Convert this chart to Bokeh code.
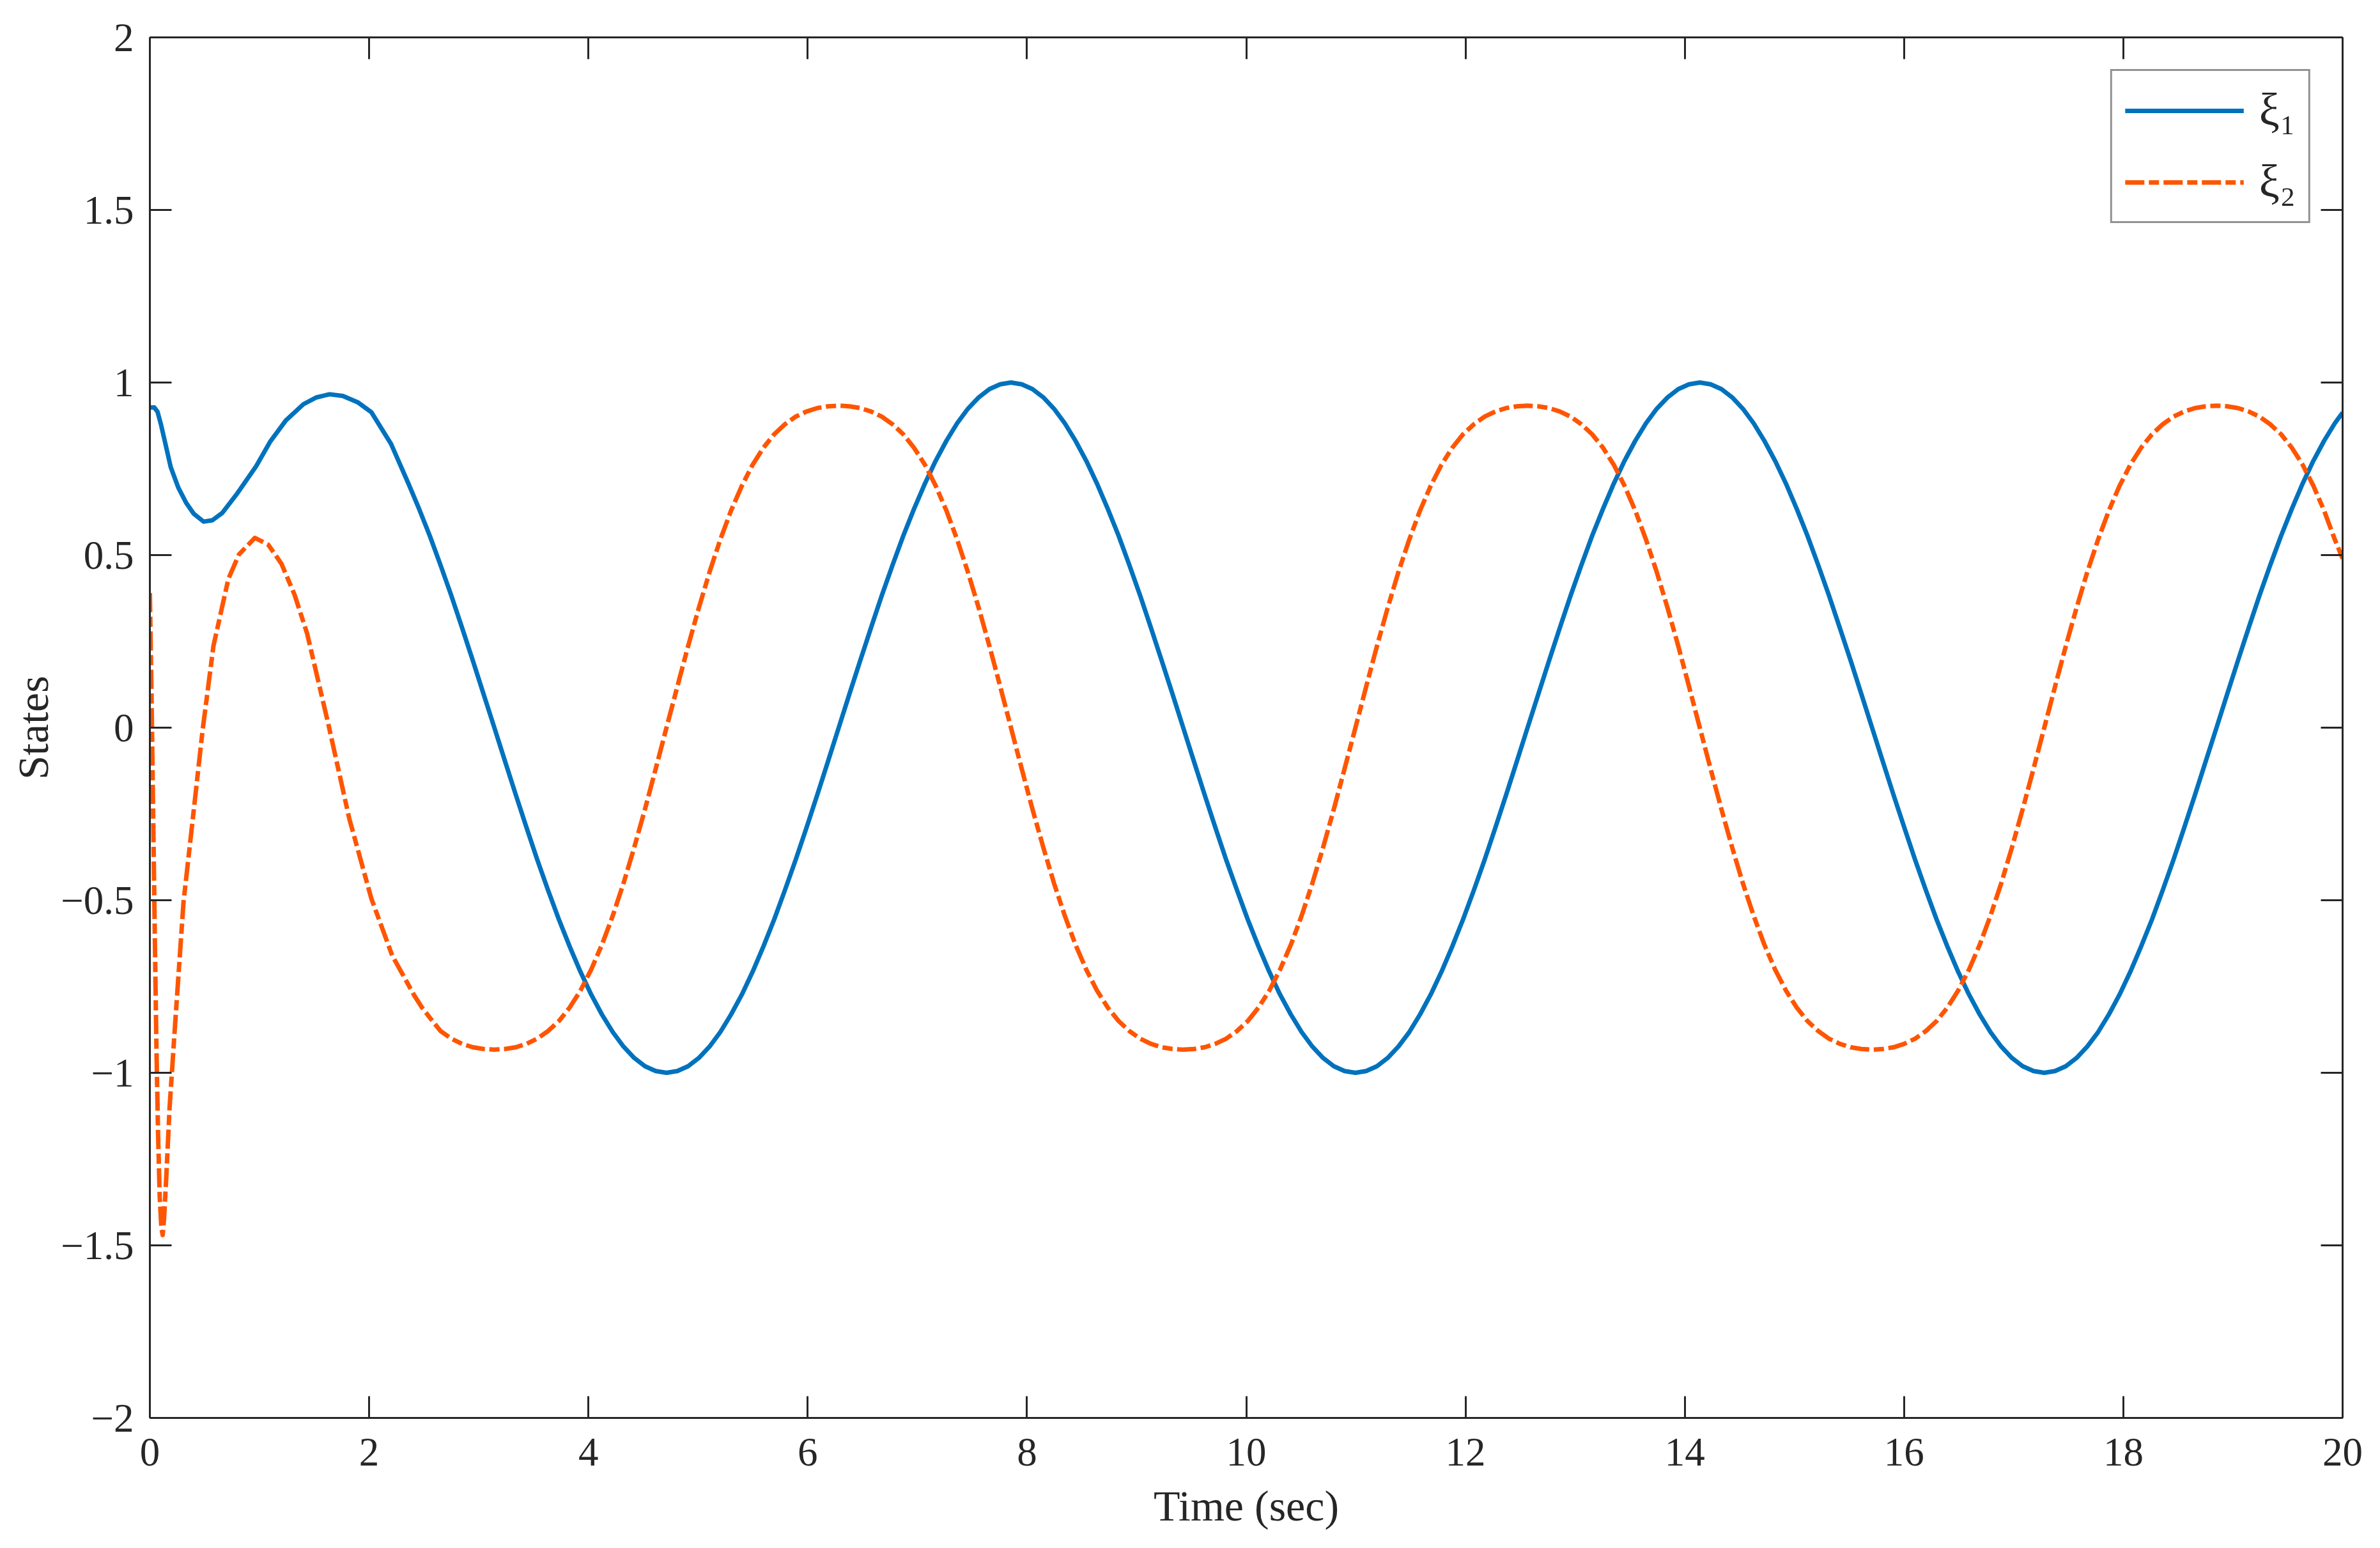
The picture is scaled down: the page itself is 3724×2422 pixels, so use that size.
from bokeh.plotting import figure
from bokeh.models import (LinearAxis, Legend, LegendItem, FixedTicker, Range1d,
                          ColumnDataSource, CustomJSTickFormatter, CustomLabelingPolicy)
from bokeh.embed import file_html
from bokeh.resources import INLINE

# ---------------- data ----------------
x_ticks = [0, 2, 4, 6, 8, 10, 12, 14, 16, 18, 20]
y_ticks = [-2, -1.5, -1, -0.5, 0, 0.5, 1, 1.5, 2]
series_names = ["ξ₁", "ξ₂"]

# early transient of xi_1
t_xi1_start = [0.00, 0.04, 0.07, 0.10, 0.14, 0.19, 0.26, 0.33, 0.40, 0.49, 0.57,
               0.66, 0.80, 0.97, 1.10, 1.24, 1.40, 1.52, 1.64, 1.76, 1.90, 2.02,
               2.20, 2.36, 2.45]
xi1_start = [0.928, 0.928, 0.915, 0.880, 0.825, 0.755, 0.695, 0.652, 0.620, 0.597,
             0.601, 0.622, 0.680, 0.758, 0.830, 0.890, 0.937, 0.957, 0.966, 0.961,
             0.942, 0.914, 0.822, 0.706, 0.638]

# early transient of xi_2
t_xi2_start = [0.000, 0.015, 0.030, 0.045, 0.060, 0.075, 0.090, 0.105, 0.117, 0.130,
               0.150, 0.180, 0.230, 0.307, 0.400, 0.480, 0.580, 0.716, 0.813, 0.958,
               1.080, 1.200, 1.320, 1.435, 1.630, 1.820, 2.020, 2.210, 2.410, 2.480]
xi2_start = [0.390, 0.100, -0.250, -0.600, -0.930, -1.180, -1.360, -1.450, -1.470,
             -1.420, -1.300, -1.100, -0.860, -0.505, -0.240, -0.010, 0.237, 0.431,
             0.502, 0.550, 0.530, 0.475, 0.385, 0.272, 0.007, -0.265, -0.495,
             -0.660, -0.775, -0.810]

# later part (shared time samples)
t_later = [
    2.553, 2.651, 2.749, 2.847, 2.945, 3.043, 3.142, 3.240, 3.338, 3.436, 3.534, 3.632,
    3.731, 3.829, 3.927, 4.025, 4.123, 4.222, 4.320, 4.418, 4.516, 4.614, 4.712, 4.811,
    4.909, 5.007, 5.105, 5.203, 5.301, 5.400, 5.498, 5.596, 5.694, 5.792, 5.890, 5.989,
    6.087, 6.185,
    6.283, 6.381, 6.480, 6.578, 6.676, 6.774, 6.872, 6.970, 7.069, 7.167, 7.265, 7.363,
    7.461, 7.560, 7.658, 7.756, 7.854, 7.952, 8.050, 8.149, 8.247, 8.345, 8.443, 8.541,
    8.639, 8.737, 8.836, 8.934, 9.032, 9.130, 9.228, 9.327, 9.425, 9.523, 9.621, 9.719,
    9.817, 9.916, 10.014, 10.112, 10.210, 10.308, 10.407, 10.505, 10.603, 10.701,
    10.799, 10.897, 10.996, 11.094, 11.192, 11.290, 11.388, 11.487, 11.585, 11.683,
    11.781, 11.879, 11.977, 12.076, 12.174, 12.272, 12.370, 12.468,
    12.566, 12.665, 12.763, 12.861, 12.959, 13.057, 13.155, 13.254, 13.352, 13.450,
    13.548, 13.646, 13.744, 13.843, 13.941, 14.039, 14.137, 14.235, 14.334, 14.432,
    14.530, 14.628, 14.726, 14.824, 14.923, 15.021, 15.119, 15.217, 15.315, 15.413,
    15.512, 15.610, 15.708, 15.806, 15.904, 16.003, 16.101, 16.199, 16.297, 16.395,
    16.493, 16.592, 16.690, 16.788, 16.886, 16.984, 17.082, 17.181, 17.279, 17.377,
    17.475, 17.573, 17.671, 17.770, 17.868, 17.966, 18.064, 18.162, 18.261, 18.359,
    18.457, 18.555, 18.653, 18.751,
    18.850, 18.948, 19.046, 19.144, 19.242, 19.340, 19.439, 19.537, 19.635, 19.733,
    19.831, 19.929, 20.000]

xi1_later = [
    0.556, 0.471, 0.383, 0.290, 0.195, 0.098, 0.000, -0.098, -0.195, -0.290, -0.383,
    -0.471, -0.556, -0.634, -0.707, -0.773, -0.831, -0.882, -0.924, -0.957, -0.981,
    -0.995, -1.000, -0.995, -0.981, -0.957, -0.924, -0.882, -0.831, -0.773, -0.707,
    -0.634, -0.556, -0.471, -0.383, -0.290, -0.195, -0.098,
    0.000, 0.098, 0.195, 0.290, 0.383, 0.471, 0.556, 0.634, 0.707, 0.773, 0.831, 0.882,
    0.924, 0.957, 0.981, 0.995, 1.000, 0.995, 0.981, 0.957, 0.924, 0.882, 0.831, 0.773,
    0.707, 0.634, 0.556, 0.471, 0.383, 0.290, 0.195, 0.098, 0.000, -0.098, -0.195,
    -0.290, -0.383, -0.471, -0.556, -0.634, -0.707, -0.773, -0.831, -0.882, -0.924,
    -0.957, -0.981, -0.995, -1.000, -0.995, -0.981, -0.957, -0.924, -0.882, -0.831,
    -0.773, -0.707, -0.634, -0.556, -0.471, -0.383, -0.290, -0.195, -0.098,
    0.000, 0.098, 0.195, 0.290, 0.383, 0.471, 0.556, 0.634, 0.707, 0.773, 0.831, 0.882,
    0.924, 0.957, 0.981, 0.995, 1.000, 0.995, 0.981, 0.957, 0.924, 0.882, 0.831, 0.773,
    0.707, 0.634, 0.556, 0.471, 0.383, 0.290, 0.195, 0.098, 0.000, -0.098, -0.195,
    -0.290, -0.383, -0.471, -0.556, -0.634, -0.707, -0.773, -0.831, -0.882, -0.924,
    -0.957, -0.981, -0.995, -1.000, -0.995, -0.981, -0.957, -0.924, -0.882, -0.831,
    -0.773, -0.707, -0.634, -0.556, -0.471, -0.383, -0.290, -0.195, -0.098,
    0.000, 0.098, 0.195, 0.290, 0.383, 0.471, 0.556, 0.634, 0.707, 0.773, 0.831, 0.882,
    0.913]

xi2_later = [
    -0.840, -0.879, -0.901, -0.916, -0.926, -0.931, -0.933, -0.931, -0.926, -0.916,
    -0.901, -0.879, -0.850, -0.811, -0.762, -0.701, -0.629, -0.545, -0.451, -0.347,
    -0.236, -0.119, 0.000, 0.119, 0.236, 0.347, 0.451, 0.545, 0.629, 0.701, 0.762,
    0.811, 0.850, 0.879, 0.901, 0.916, 0.926, 0.931,
    0.933, 0.931, 0.926, 0.916, 0.901, 0.879, 0.850, 0.811, 0.762, 0.701, 0.629, 0.545,
    0.451, 0.347, 0.236, 0.119, 0.000, -0.119, -0.236, -0.347, -0.451, -0.545, -0.629,
    -0.701, -0.762, -0.811, -0.850, -0.879, -0.901, -0.916, -0.926, -0.931, -0.933,
    -0.931, -0.926, -0.916, -0.901, -0.879, -0.850, -0.811, -0.762, -0.701, -0.629,
    -0.545, -0.451, -0.347, -0.236, -0.119, 0.000, 0.119, 0.236, 0.347, 0.451, 0.545,
    0.629, 0.701, 0.762, 0.811, 0.850, 0.879, 0.901, 0.916, 0.926, 0.931,
    0.933, 0.931, 0.926, 0.916, 0.901, 0.879, 0.850, 0.811, 0.762, 0.701, 0.629, 0.545,
    0.451, 0.347, 0.236, 0.119, 0.000, -0.119, -0.236, -0.347, -0.451, -0.545, -0.629,
    -0.701, -0.762, -0.811, -0.850, -0.879, -0.901, -0.916, -0.926, -0.931, -0.933,
    -0.931, -0.926, -0.916, -0.901, -0.879, -0.850, -0.811, -0.762, -0.701, -0.629,
    -0.545, -0.451, -0.347, -0.236, -0.119, 0.000, 0.119, 0.236, 0.347, 0.451, 0.545,
    0.629, 0.701, 0.762, 0.811, 0.850, 0.879, 0.901, 0.916, 0.926, 0.931,
    0.933, 0.931, 0.926, 0.916, 0.901, 0.879, 0.850, 0.811, 0.762, 0.701, 0.629, 0.545,
    0.490]

# ---------------- figure ----------------
TXT = "#262626"
FONT = "Liberation Serif"

src1 = ColumnDataSource(dict(t=t_xi1_start + t_later, v=xi1_start + xi1_later))
src2 = ColumnDataSource(dict(t=t_xi2_start + t_later, v=xi2_start + xi2_later))

p = figure(width=3708, height=2406, x_range=Range1d(0, 20), y_range=Range1d(-2, 2),
           output_backend="svg", toolbar_location=None,
           min_border_left=234, min_border_top=58, min_border_right=43,
           min_border_bottom=188)
p.background_fill_color = "white"
p.border_fill_color = "white"
p.outline_line_color = None
p.xgrid.visible = False
p.ygrid.visible = False

xa = p.below[0]
ya = p.left[0]

r1 = p.line("t", "v", source=src1, line_color="#0072BD", line_width=7,
            line_join="round")
r2 = p.line("t", "v", source=src2, line_color="#FF5500", line_width=7,
            line_dash="30 7 16 7", line_join="round")

fmt = CustomJSTickFormatter(code="""
    var s = (Math.abs(tick) < 1e-9) ? '0' : Math.abs(tick).toString();
    return tick < -1e-9 ? '\\u2212' + s : s;
""")

xa.ticker = FixedTicker(ticks=x_ticks)
ya.ticker = FixedTicker(ticks=y_ticks)
ya.formatter = fmt

no_labels = CustomLabelingPolicy(code="""
    try { indices.clear(); } catch (e) {
        const arr = Array.from(indices);
        for (const i of arr) { indices.unset(i); }
    }
    return indices;
""")

top_ax = LinearAxis(ticker=FixedTicker(ticks=x_ticks), major_label_policy=no_labels)
right_ax = LinearAxis(ticker=FixedTicker(ticks=y_ticks), major_label_policy=no_labels)
p.add_layout(top_ax, "above")
p.add_layout(right_ax, "right")

for ax in [xa, ya, top_ax, right_ax]:
    ax.axis_line_width = 3
    ax.axis_line_color = TXT
    ax.major_tick_line_width = 3
    ax.major_tick_line_color = TXT
    ax.major_tick_in = 34
    ax.major_tick_out = 0
    ax.minor_tick_line_color = None
    ax.major_label_text_font = FONT
    ax.major_label_text_font_size = "63px"
    ax.major_label_text_color = TXT

for ax in [top_ax, right_ax]:
    ax.major_label_standoff = 0
    ax.major_label_text_font_size = "0px"

xa.major_label_standoff = 32
ya.major_label_standoff = 25

xa.axis_label = "Time (sec)"
ya.axis_label = "States"
for ax in [xa, ya]:
    ax.axis_label_text_font = FONT
    ax.axis_label_text_font_size = "68px"
    ax.axis_label_text_font_style = "normal"
    ax.axis_label_text_color = TXT
xa.axis_label_standoff = 22
ya.axis_label_standoff = 2

legend = Legend(items=[LegendItem(label=series_names[0], renderers=[r1]),
                       LegendItem(label=series_names[1], renderers=[r2])],
                location="top_right", margin=50, padding=20, spacing=29,
                glyph_width=186, glyph_height=80, label_height=80,
                label_standoff=24, label_text_font=FONT,
                label_text_font_size="72px", label_text_color=TXT,
                border_line_color=TXT, border_line_width=3,
                background_fill_color="white", background_fill_alpha=1.0)
p.add_layout(legend)

open("out.html", "w").write(file_html(p, INLINE))
